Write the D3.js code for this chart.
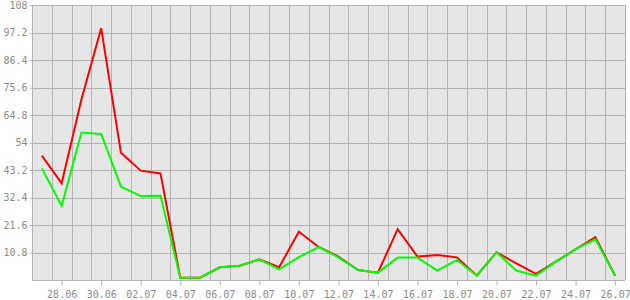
<!DOCTYPE html>
<html>
<head>
<meta charset="utf-8">
<script src="https://cdn.jsdelivr.net/npm/d3@7"></script>
<style>
html, body { margin: 0; padding: 0; background: #ffffff; }
svg { display: block; }
</style>
</head>
<body>
<svg id="chart" width="630" height="300"></svg>
<script>
const dates = ["27.06","28.06","29.06","30.06","01.07","02.07","03.07","04.07","05.07","06.07",
  "07.07","08.07","09.07","10.07","11.07","12.07","13.07","14.07","15.07","16.07",
  "17.07","18.07","19.07","20.07","21.07","22.07","23.07","24.07","25.07","26.07"];
const redValues = [48.9, 38.0, 71, 99, 50, 43.0, 41.9, 0.9, 0.9, 5.0,
  5.6, 8.1, 5.0, 19.0, 13.0, 9.2, 3.9, 2.9, 20.0, 9.2,
  9.8, 8.9, 1.7, 10.9, 6.5, 2.4, 7.2, 12.1, 16.8, 1.7];
const greenValues = [43.9, 29.1, 58.0, 57.4, 36.7, 33.0, 33.1, 0.9, 0.9, 5.0,
  5.6, 8.1, 4.2, 9.0, 12.9, 8.9, 3.9, 2.9, 8.8, 8.8,
  3.7, 7.9, 1.7, 10.9, 3.7, 1.7, 7.2, 12.1, 16.0, 1.7];
const yTickValues = [10.8, 21.6, 32.4, 43.2, 54, 64.8, 75.6, 86.4, 97.2, 108];
const yTickLabels = ["10.8","21.6","32.4","43.2","54","64.8","75.6","86.4","97.2","108"];
const xLabelDates = dates.filter((d, i) => i % 2 === 1);

(function () {
const pLeft = 32, pRight = 625, pTop = 5.3, pBottom = 280;
const svg = d3.select("#chart");

const xBand = d3.scaleBand().domain(dates).range([pLeft, pRight]).padding(0);
const xc = d => xBand(d) + xBand.bandwidth() / 2;
const y = d3.scaleLinear().domain([0, 108]).range([pBottom, pTop]);

const gridColor = "#b5b5b5";
const textColor = "#8c8c8c";
const font = "'DejaVu Sans Mono', monospace";

svg.append("rect").attr("x", pLeft).attr("y", pTop)
  .attr("width", pRight - pLeft).attr("height", pBottom - pTop)
  .attr("fill", "#e6e6e6");

const g = svg.append("g").attr("stroke", gridColor).attr("stroke-width", 1).attr("shape-rendering", "crispEdges");
dates.forEach((d, i) => {
  if (i === 0) return;
  const xx = Math.round(xBand(d)) + 0.5;
  g.append("line").attr("x1", xx).attr("x2", xx).attr("y1", pTop).attr("y2", pBottom);
});
g.append("line").attr("x1", pRight + 0.5).attr("x2", pRight + 0.5).attr("y1", pTop).attr("y2", pBottom);

yTickValues.forEach(v => {
  const yy = Math.round(y(v)) + 0.5;
  g.append("line").attr("x1", pLeft).attr("x2", pRight).attr("y1", yy).attr("y2", yy);
});

const yAxis = d3.axisLeft(y).tickValues(yTickValues)
  .tickFormat((d, i) => yTickLabels[i]).tickSize(3).tickSizeOuter(0).tickPadding(2);
const ya = svg.append("g").attr("transform", `translate(${pLeft + 0.5},0)`).call(yAxis);
ya.select(".domain").attr("stroke", gridColor).attr("d", `M0,${pTop}V${pBottom}`);
ya.selectAll(".tick line").attr("stroke", gridColor);
ya.selectAll(".tick text").attr("fill", textColor).style("font-family", font).style("font-size", "10px");

const xPoint = d3.scalePoint().domain(dates).range([xc(dates[0]), xc(dates[dates.length - 1])]);
const xAxis = d3.axisBottom(xPoint).tickValues(xLabelDates).tickSize(5).tickSizeOuter(0).tickPadding(5);
const xa = svg.append("g").attr("transform", `translate(0,${pBottom + 0.5})`).call(xAxis);
xa.select(".domain").attr("stroke", gridColor).attr("d", `M${pLeft},0H${pRight}`);
xa.selectAll(".tick line").attr("stroke", gridColor);
xa.selectAll(".tick text").attr("fill", textColor).style("font-family", font).style("font-size", "10px");

const line = vals => d3.line().x((d, i) => xc(dates[i])).y(d => y(d))(vals);
svg.append("path").attr("d", line(redValues)).attr("fill", "none")
  .attr("stroke", "#ff0000").attr("stroke-width", 2);
svg.append("path").attr("d", line(greenValues)).attr("fill", "none")
  .attr("stroke", "#00ff00").attr("stroke-width", 2);
})();
</script>
</body>
</html>
